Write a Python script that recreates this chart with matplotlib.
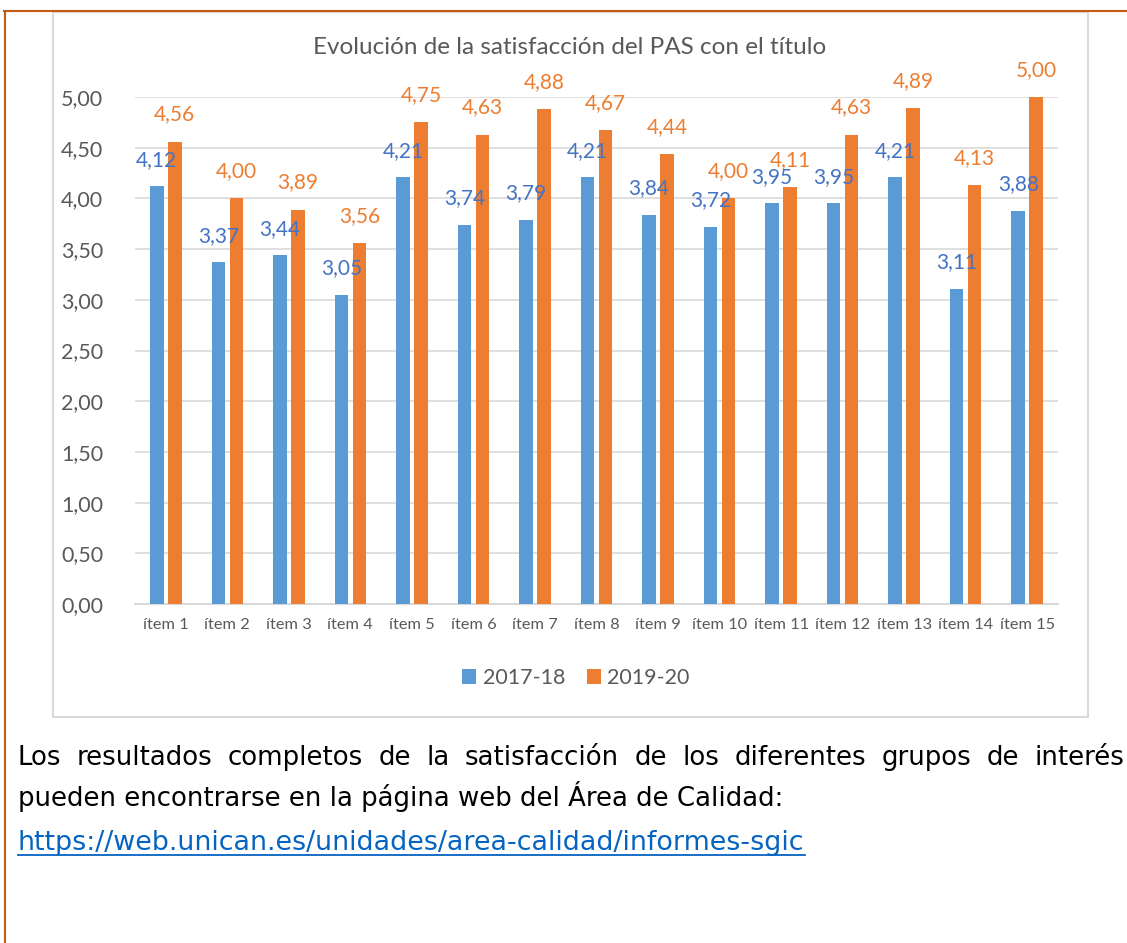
import matplotlib
matplotlib.use('Agg')
import matplotlib.pyplot as plt
from matplotlib.patches import Rectangle
from matplotlib.lines import Line2D
import numpy as np

# datos del gráfico
items = [f'ítem {i}' for i in range(1, 16)]
serie_2017 = [4.12, 3.37, 3.44, 3.05, 4.21, 3.74, 3.79, 4.21, 3.84, 3.72, 3.95, 3.95, 4.21, 3.11, 3.88]
serie_2019 = [4.56, 4.00, 3.89, 3.56, 4.75, 4.63, 4.88, 4.67, 4.44, 4.00, 4.11, 4.63, 4.89, 4.13, 5.00]
etiquetas_series = ['2017-18', '2019-20']
yticks = np.arange(0, 5.01, 0.5)

titulo = 'Evolución de la satisfacción del PAS con el título'
parrafo_1 = 'Los resultados completos de la satisfacción de los diferentes grupos de interés'
parrafo_2 = 'pueden encontrarse en la página web del Área de Calidad:'
enlace = 'https://web.unican.es/unidades/area-calidad/informes-sgic'

AZUL = '#5B9BD5'
AZUL_TXT = '#4472C4'
NARANJA = '#ED7D31'
GRIS_TXT = '#595959'
W, H = 1127, 943
FUENTE = 'Lato'

fig = plt.figure(figsize=(W / 100, H / 100), dpi=100)
fig.patch.set_facecolor('white')


def px(x, y):
    # píxeles (origen arriba-izquierda) -> coordenadas de figura
    return x / W, 1 - y / H


# borde naranja del documento
fig.add_artist(Line2D([4 / W, 1], [1 - 11 / H] * 2, color='#C55A11', lw=1.5))
fig.add_artist(Line2D([5 / W] * 2, [0, 1 - 11 / H], color='#C55A11', lw=1.5))

# marco gris del gráfico
x0, y0 = px(53, 717)
fig.add_artist(Rectangle((x0, y0), (1088 - 53) / W, (717 - 12) / H, fill=False,
                         edgecolor='#D9D9D9', lw=1.5))

# ejes
ax_l, ax_b = px(135, 604)
ax = fig.add_axes([ax_l, ax_b, (1058 - 135) / W, (604 - 97) / H])
x = np.arange(len(items))
ancho = 0.22
desp = 0.146
b1 = ax.bar(x - desp, serie_2017, ancho, color=AZUL, label=etiquetas_series[0], zorder=3)
b2 = ax.bar(x + desp, serie_2019, ancho, color=NARANJA, label=etiquetas_series[1], zorder=3)

fmt = lambda v: f'{v:.2f}'.replace('.', ',')
for xi, v in zip(x, serie_2017):
    ax.annotate(fmt(v), (xi - desp, v), xytext=(0, 19), textcoords='offset points',
                ha='center', va='center', color=AZUL_TXT, fontsize=15, family=FUENTE, zorder=5)
for xi, v in zip(x, serie_2019):
    ax.annotate(fmt(v), (xi + desp, v), xytext=(0, 19.5), textcoords='offset points',
                ha='center', va='center', color=NARANJA, fontsize=15, family=FUENTE, zorder=5)

ax.set_xlim(-0.5, len(items) - 0.5)
ax.set_ylim(0, 5)
ax.set_yticks(yticks)
ax.set_yticklabels([fmt(v) for v in yticks], fontsize=15.5, color=GRIS_TXT, family=FUENTE)
ax.set_xticks(x)
ax.set_xticklabels(items, fontsize=11.8, color=GRIS_TXT, family=FUENTE)
ax.tick_params(axis='both', length=0)
ax.tick_params(axis='y', pad=23)
ax.tick_params(axis='x', pad=10)
ax.grid(axis='y', color='#D9D9D9', lw=1.2, zorder=0)
for s in ['top', 'right', 'left']:
    ax.spines[s].set_visible(False)
ax.spines['bottom'].set_color('#D9D9D9')
ax.spines['bottom'].set_linewidth(1.5)

# título
tx, ty = px(570, 48)
fig.text(tx, ty, titulo, ha='center', va='center', fontsize=17.5, color=GRIS_TXT, family=FUENTE)

# leyenda
lx, ly = px(576, 678)
fig.legend(handles=[b1, b2], labels=etiquetas_series, loc='center', bbox_to_anchor=(lx, ly),
           ncol=2, frameon=False, handlelength=0.65, handleheight=0.65, handletextpad=0.3,
           columnspacing=1.0, prop={'family': FUENTE, 'size': 15.5}, labelcolor=GRIS_TXT)

# texto inferior (primera línea justificada)
renderer = fig.canvas.get_renderer()
TAM = 18.7
izq, der = 18, 1124
palabras = parrafo_1.split()
anchos = []
for p in palabras:
    t = fig.text(0, 0, p, fontsize=TAM, family='DejaVu Sans')
    anchos.append(t.get_window_extent(renderer).width)
    t.remove()
hueco = (der - izq - sum(anchos)) / (len(palabras) - 1)
xpos = izq
for p, a in zip(palabras, anchos):
    fx, fy = px(xpos, 758)
    fig.text(fx, fy, p, ha='left', va='center', fontsize=TAM, color='black', family='DejaVu Sans')
    xpos += a + hueco

p2x, p2y = px(18, 796)
fig.text(p2x, p2y, parrafo_2, ha='left', va='center', fontsize=TAM, color='black', family='DejaVu Sans')
ex, ey = px(18, 843)
t_enlace = fig.text(ex, ey, enlace, ha='left', va='center', fontsize=19.4, color='#0563C1',
                    family='DejaVu Sans')

# subrayado del enlace
fig.canvas.draw()
bb = t_enlace.get_window_extent(fig.canvas.get_renderer())
fig.add_artist(Line2D([bb.x0 / W, bb.x1 / W], [(bb.y0 + 1) / H] * 2, color='#0563C1', lw=1.3))

plt.savefig('out.png', dpi=100)
plt.close()
